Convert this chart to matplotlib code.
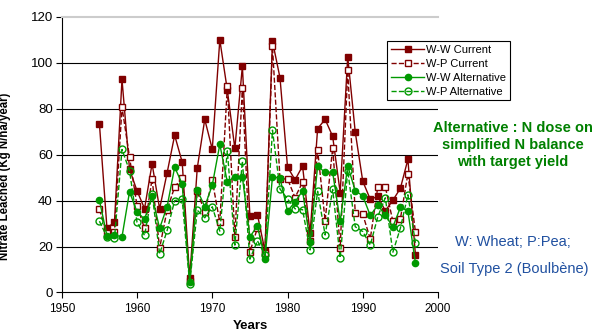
import numpy as np
import matplotlib
matplotlib.use("Agg")
import matplotlib.pyplot as plt

plt.rcParams['font.family'] = ['Liberation Sans', 'DejaVu Sans']

years = np.arange(1955, 1998)

ww_current = [73.4, 28.1, 30.5, 92.7, 53.6, 44.2, 36.5, 56.0, 36.4, 52.1,
              68.4, 56.7, 6.2, 54.0, 75.3, 62.3, 109.9, 88.0, 62.7, 98.4,
              33.3, 33.9, 18.1, 109.3, 93.4, 54.6, 49.0, 55.0, 25.7, 71.3,
              75.3, 67.9, 43.4, 102.6, 69.8, 48.4, 40.5, 41.8, 35.5, 40.1,
              45.3, 57.9, 16.3]
wp_current = [36.1, 25.7, 26.5, 80.6, 58.9, 37.7, 27.9, 49.5, 19.3, 36.0,
              45.9, 49.8, 5.0, 44.0, 35.0, 48.8, 30.5, 89.6, 24.2, 89.1,
              17.7, 28.0, 17.0, 107.0, 49.4, 49.4, 41.3, 48.0, 22.5, 62.0,
              31.2, 62.9, 19.2, 96.6, 34.7, 34.0, 23.3, 46.0, 45.9, 31.0,
              32.0, 51.7, 26.4]
ww_alt = [40.1, 24.7, 25.0, 24.2, 43.8, 35.1, 31.9, 42.0, 27.9, 37.4,
          54.5, 47.2, 4.5, 44.6, 37.4, 46.7, 64.4, 48.1, 50.3, 50.3,
          24.2, 29.0, 14.6, 50.3, 49.8, 35.4, 39.4, 44.2, 22.0, 55.0,
          52.2, 52.2, 31.0, 55.0, 44.3, 42.0, 33.5, 38.0, 33.6, 28.5,
          37.0, 35.5, 12.8]
wp_alt = [31.0, 24.2, 23.5, 62.2, 53.0, 30.5, 24.8, 43.0, 16.8, 27.0,
          40.0, 40.5, 3.7, 35.8, 32.5, 37.3, 26.7, 61.6, 20.6, 57.1,
          14.5, 22.5, 16.3, 70.6, 45.0, 40.7, 36.4, 36.0, 18.5, 44.0,
          25.0, 44.8, 15.0, 53.0, 28.6, 26.5, 20.6, 33.0, 41.2, 17.5,
          28.0, 42.5, 21.6]

red = '#800000'
green = '#009900'

fig = plt.figure(figsize=(6, 3.32), dpi=100)
ax = fig.add_axes([0.103, 0.119, 0.627, 0.831])

ax.plot(years, ww_current, '-', color=red, lw=1, marker='s', ms=4.5,
        mfc=red, mec=red, label='W-W Current')
ax.plot(years, wp_current, '--', color=red, lw=1, marker='s', ms=4.5,
        mfc='white', mec=red, label='W-P Current')
ax.plot(years, ww_alt, '-', color=green, lw=1, marker='o', ms=4.5,
        mfc=green, mec=green, label='W-W Alternative')
ax.plot(years, wp_alt, '--', color=green, lw=1, marker='o', ms=5,
        mfc='none', mec=green, label='W-P Alternative')

ax.set_xlim(1950, 2000)
ax.set_ylim(0, 120)
ax.set_xticks(np.arange(1950, 2001, 10))
ax.set_yticks(np.arange(0, 121, 20))
for v in range(20, 120, 20):
    ax.axhline(v, color='black', lw=0.8, zorder=0)
ax.spines['right'].set_visible(False)
ax.spines['top'].set_color('#cccccc')
ax.spines['top'].set_linewidth(1.5)
ax.tick_params(length=4, direction='out', width=0.8)
ax.tick_params(axis='x', labelsize=8.5)
ax.tick_params(axis='y', labelsize=9.5, pad=2.5)
ax.set_xlabel('Years', fontsize=9.5, fontweight='bold', labelpad=4)
ax.set_ylabel('Nitrate Leached (Kg N/ha/year)', fontsize=8.3, fontweight='bold')
ax.yaxis.set_label_coords(-0.136, 0.42)

leg = ax.legend(loc='upper left', bbox_to_anchor=(387 / 600, 1 - 41 / 332),
                bbox_transform=fig.transFigure, fontsize=8, frameon=True,
                fancybox=False, edgecolor='black', framealpha=1,
                borderaxespad=0, handlelength=3.0, labelspacing=0.35,
                borderpad=0.35, handletextpad=0.2)
leg.get_frame().set_linewidth(0.8)

fig.text(513 / 600, 1 - 145 / 332,
         'Alternative : N dose on\nsimplified N balance\nwith target yield',
         color='#008000', fontsize=10.5, fontweight='bold', ha='center',
         va='center', linespacing=1.3)
fig.text(513 / 600, 1 - 242 / 332, 'W: Wheat; P:Pea;', color='#2050a0',
         fontsize=10.5, ha='center', va='center')
fig.text(514 / 600, 1 - 269 / 332, 'Soil Type 2 (Boulbène)', color='#2050a0',
         fontsize=10.5, ha='center', va='center')

plt.savefig('out.png', dpi=100)
